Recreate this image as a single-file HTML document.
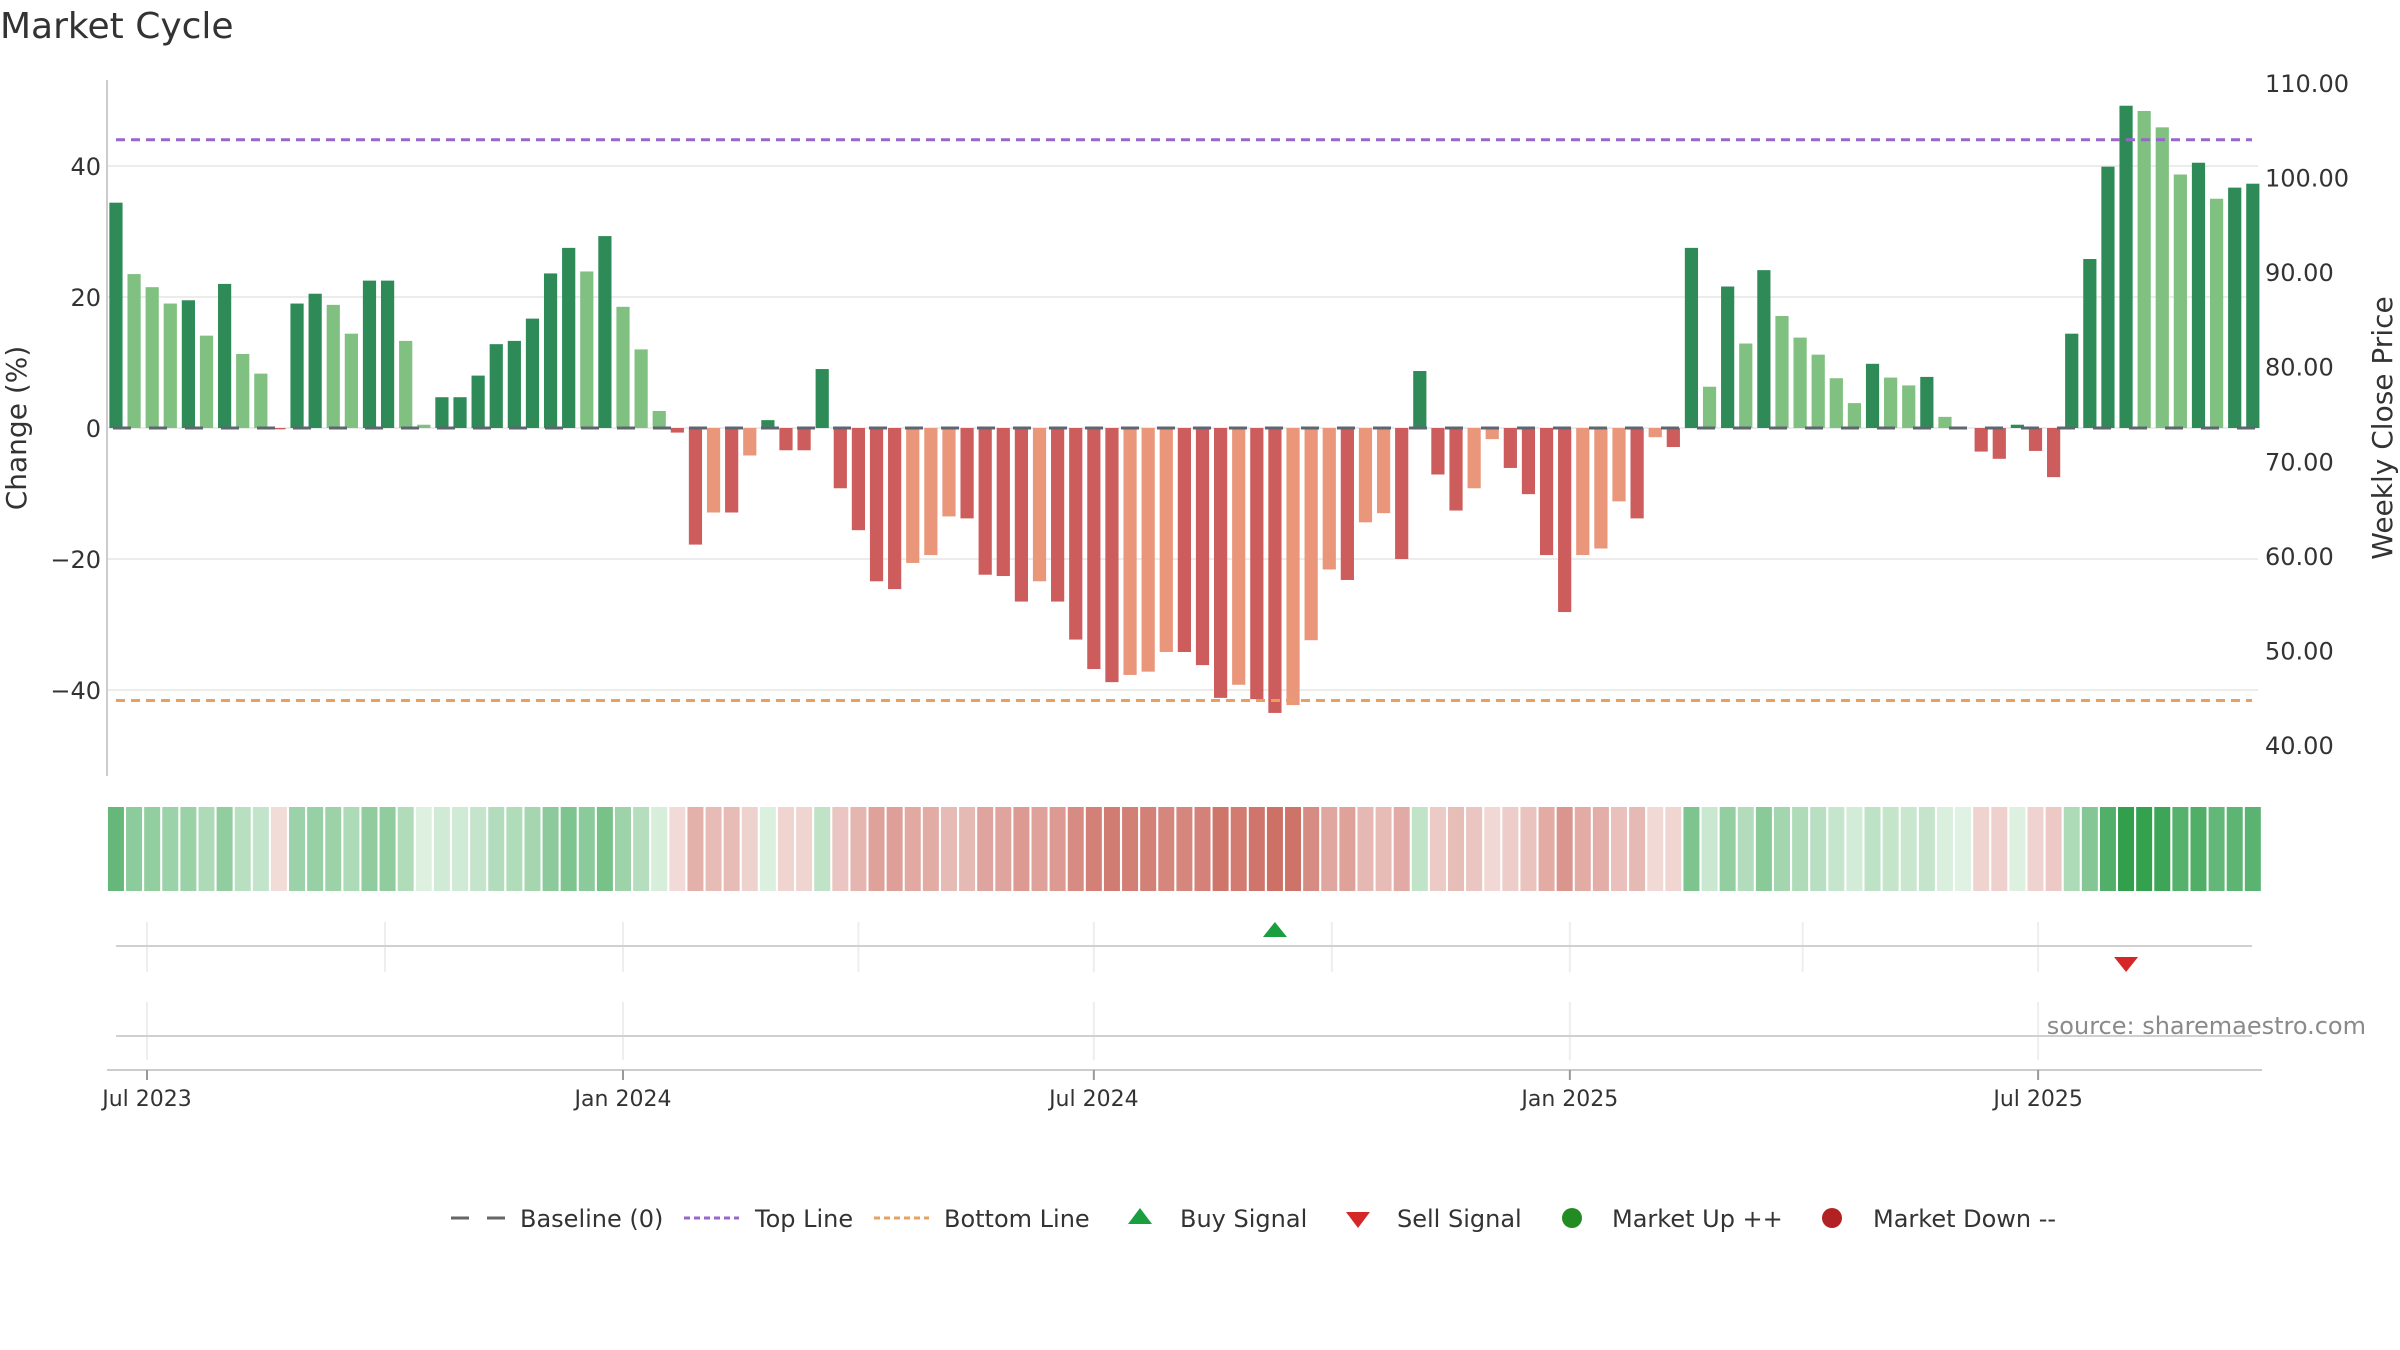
<!DOCTYPE html>
<html><head><meta charset="utf-8"><style>
html,body{margin:0;padding:0;background:#fff}
svg{display:block;font-family:"DejaVu Sans","Liberation Sans",sans-serif}
</style></head><body>
<svg id="chart" width="2400" height="1350" viewBox="0 0 2400 1350">
<text x="0" y="38" font-size="36" fill="#333">Market Cycle</text>
<g id="grid"></g>
<g id="bars"></g>
<g id="lines"></g>
<g id="heat"></g>
<g id="signals"></g>
<g id="axes"></g>
<text x="2366" y="1034" font-size="24" fill="#8a8a8a" text-anchor="end">source: sharemaestro.com</text>
<g id="legend"></g>
</svg>
<script>
const values = [34.4,23.5,21.5,19.0,19.5,14.1,22.0,11.3,8.3,-0.2,19.0,20.5,18.8,14.4,22.5,22.5,13.3,0.5,4.7,4.7,8.0,12.8,13.3,16.7,23.6,27.5,23.9,29.3,18.5,12.0,2.6,-0.7,
-17.8,-12.9,-12.9,-4.2,1.2,-3.4,-3.4,9.0,-9.2,-15.6,-23.4,-24.6,-20.6,-19.4,-13.5,-13.8,-22.4,-22.6,-26.5,-23.4,-26.5,-32.3,-36.8,-38.8,-37.7,-37.2,-34.2,-34.2,
-36.2,-41.2,-39.2,-41.4,-43.5,-42.3,-32.4,-21.6,-23.2,-14.4,-13.0,-20.0,8.7,-7.1,-12.6,-9.2,-1.7,-6.1,-10.1,-19.4,-28.1,-19.4,-18.4,-11.2,-13.8,-1.4,-2.9,
27.5,6.3,21.6,12.9,24.1,17.1,13.8,11.2,7.6,3.8,9.8,7.7,6.5,7.8,1.7,0,-3.6,-4.7,0.5,-3.5,-7.5,14.4,25.8,39.9,49.2,48.4,45.9,38.7,40.5,35.0,36.7,37.3];
const startDate = "2023-06-19";
const topLine = 44;
const bottomLine = -41.6;
const leftTicks = [40,20,0,-20,-40];
const rightTicks = [110,100,90,80,70,60,50,40];
const buySignals = [64];
const sellSignals = [111];
const xTickLabels = ["Jul 2023","Jan 2024","Jul 2024","Jan 2025","Jul 2025"];
const xTickDates = ["2023-07-01","2024-01-01","2024-07-01","2025-01-01","2025-07-01"];
const quarterDates = ["2023-07-01","2023-10-01","2024-01-01","2024-04-01","2024-07-01","2024-10-01","2025-01-01","2025-04-01","2025-07-01"];

const NS="http://www.w3.org/2000/svg";
function mk(tag,attrs,parent){const e=document.createElementNS(NS,tag);for(const k in attrs)e.setAttribute(k,attrs[k]);parent.appendChild(e);return e;}
const DAY=86400000, ref=Date.parse("2023-07-01");
function xDate(s){return 147+(Date.parse(s)-ref)/DAY*2.587;}
function xBar(i){return xDate(startDate)+i*7*2.587;}
function y(v){return 428-v*6.55;}
function yPrice(p){return 745-(p-40)*(745-83)/70;}
const X0=107,X1=2258;
const grid=document.getElementById('grid'),bars=document.getElementById('bars'),lines=document.getElementById('lines'),heat=document.getElementById('heat'),sig=document.getElementById('signals'),axes=document.getElementById('axes'),legend=document.getElementById('legend');

leftTicks.forEach(t=>{
  const g=mk('line',{x1:X0,x2:X1,y1:y(t),y2:y(t),stroke:'#ececec','stroke-width':2},grid);
  
  
  const l=mk('text',{x:101,y:y(t)+9,'font-size':24,fill:'#333','text-anchor':'end'},axes);
  l.textContent=(t<0?'\u2212'+(-t):t);
  
  
});
rightTicks.forEach(p=>{
  const l=mk('text',{x:2265,y:yPrice(p)+9,'font-size':24,fill:'#333'},axes);
  l.textContent=p.toFixed(2);
  
  
});
let t1=mk('text',{x:0,y:0,'font-size':28,fill:'#333','text-anchor':'middle',transform:'translate(26,428) rotate(-90)'},axes);
t1.textContent='Change (%)';


let t2=mk('text',{x:0,y:0,'font-size':28,fill:'#333','text-anchor':'middle',transform:'translate(2392,428) rotate(-90)'},axes);
t2.textContent='Weekly Close Price';


let ax=mk('line',{x1:X0,x2:X0,y1:80,y2:776,stroke:'#ccc','stroke-width':2},axes);



values.forEach((v,i)=>{
  const prev=i>0?values[i-1]:v;
  let c;
  if(v>=0) c=(v>=prev)?'#2e8b57':'#80c080';
  else c=(v<=prev)?'#cd5c5c':'#e9967a';
  const x=xBar(i)-6.6,h=Math.abs(y(v)-y(0));
  const r=mk('rect',{x:x,y:Math.min(y(v),y(0)),width:13.2,height:h,fill:c},bars);
  
  
  const t=Math.min(Math.abs(v)/50,1);
  const a=v>=0?[224,242,227]:[242,220,217], b=v>=0?[46,158,74]:[200,96,84];
  const col='rgb('+a.map((q,k)=>Math.round(q+(b[k]-q)*t)).join(',')+')';
  const hc=mk('rect',{x:xBar(i)-8,y:807,width:16,height:84,fill:col},heat);
  
  
});
let bl=mk('line',{x1:X0+6,x2:X1,y1:y(0),y2:y(0),stroke:'#5f6672','stroke-width':3,'stroke-dasharray':'18 18'},lines);


let tl=mk('line',{x1:116,x2:X1-6,y1:y(topLine),y2:y(topLine),stroke:'#9966cc','stroke-width':3,'stroke-dasharray':'9 6'},lines);


let btl=mk('line',{x1:116,x2:X1-6,y1:y(bottomLine),y2:y(bottomLine),stroke:'#e8a060','stroke-width':3,'stroke-dasharray':'9 6'},lines);



quarterDates.forEach(d=>{
  const l=mk('line',{x1:xDate(d),x2:xDate(d),y1:922,y2:972,stroke:'#eee','stroke-width':2},sig);
  
  
});
xTickDates.forEach(d=>{
  const l=mk('line',{x1:xDate(d),x2:xDate(d),y1:1002,y2:1060,stroke:'#eee','stroke-width':2},sig);
  
  
});
let s1=mk('line',{x1:116,x2:2252,y1:946,y2:946,stroke:'#d0d0d0','stroke-width':2},sig);


let s2=mk('line',{x1:116,x2:2252,y1:1036,y2:1036,stroke:'#d0d0d0','stroke-width':2},sig);


buySignals.forEach(i=>{
  const x=xBar(i);
  const p=mk('polygon',{points:`${x-12},937 ${x+12},937 ${x},922`,fill:'#1a9e3f'},sig);
  
  
});
sellSignals.forEach(i=>{
  const x=xBar(i);
  const p=mk('polygon',{points:`${x-12},957 ${x+12},957 ${x},972`,fill:'#d62728'},sig);
  
  
});
let xa=mk('line',{x1:107,x2:2262,y1:1070,y2:1070,stroke:'#ccc','stroke-width':2},axes);


xTickDates.forEach((d,k)=>{
  const tk=mk('line',{x1:xDate(d),x2:xDate(d),y1:1070,y2:1080,stroke:'#999','stroke-width':2},axes);
  
  
  const l=mk('text',{x:xDate(d),y:1106,'font-size':22,fill:'#333','text-anchor':'middle'},axes);
  l.textContent=xTickLabels[k];
  
  
});

// legend
const LY=1218;
function ltext(x,s){const t=mk('text',{x:x,y:LY+9,'font-size':24,fill:'#333'},legend);t.textContent=s;}
let e;
e=mk('line',{x1:451,x2:505,y1:LY,y2:LY,stroke:'#666','stroke-width':3,'stroke-dasharray':'18 18'},legend);


ltext(520,'Baseline (0)');
e=mk('line',{x1:684,x2:739,y1:LY,y2:LY,stroke:'#9966cc','stroke-width':3,'stroke-dasharray':'6 4'},legend);


ltext(755,'Top Line');
e=mk('line',{x1:874,x2:929,y1:LY,y2:LY,stroke:'#e8a060','stroke-width':3,'stroke-dasharray':'6 4'},legend);


ltext(944,'Bottom Line');
e=mk('polygon',{points:'1128,1224 1152,1224 1140,1208',fill:'#1a9e3f'},legend);


ltext(1180,'Buy Signal');
e=mk('polygon',{points:'1346,1212 1370,1212 1358,1228',fill:'#d62728'},legend);


ltext(1397,'Sell Signal');
e=mk('circle',{cx:1572,cy:LY,r:10,fill:'#228b22'},legend);


ltext(1612,'Market Up ++');
e=mk('circle',{cx:1832,cy:LY,r:10,fill:'#b22222'},legend);


ltext(1873,'Market Down --');
</script>
</body></html>
